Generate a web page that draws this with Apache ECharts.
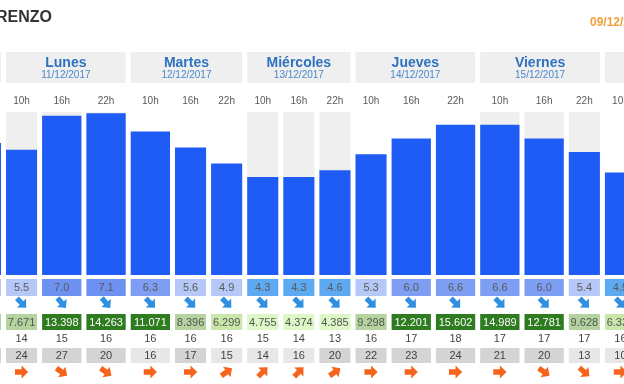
<!DOCTYPE html>
<html><head><meta charset="utf-8">
<script src="https://cdn.jsdelivr.net/npm/echarts@6/dist/echarts.min.js"></script>
<style>html,body{margin:0;padding:0;background:#fff}#c{width:624px;height:384px}</style>
</head><body><div id="c"></div>
<script>
// ---------- DATA ----------
const dayNames = ['Domingo', 'Lunes', 'Martes', 'Miércoles', 'Jueves', 'Viernes', 'Sábado'];
const dayDates = ['10/12/2017', '11/12/2017', '12/12/2017', '13/12/2017', '14/12/2017', '15/12/2017', '16/12/2017'];
const slotDay  = [0, 1, 1, 1, 2, 2, 2, 3, 3, 3, 4, 4, 4, 5, 5, 5, 6];
const slotHour = ['22h', '10h', '16h', '22h', '10h', '16h', '22h', '10h', '16h', '22h', '10h', '16h', '22h', '10h', '16h', '22h', '10h'];
const waveHeight = [5.8, 5.5, 7.0, 7.1, 6.3, 5.6, 4.9, 4.3, 4.3, 4.6, 5.3, 6.0, 6.6, 6.6, 6.0, 5.4, 4.5];
const waveDir    = [135, 135, 140, 140, 135, 135, 135, 135, 135, 135, 135, 135, 135, 135, 135, 135, 135];
const energy     = [7100, 7671, 13398, 14263, 11071, 8396, 6299, 4755, 4374, 4385, 9298, 12201, 15602, 14989, 12781, 9628, 6335];
const period     = [14, 14, 15, 16, 16, 16, 16, 15, 14, 13, 16, 17, 18, 17, 17, 17, 16];
const windSpeed  = [18, 24, 27, 20, 16, 17, 15, 14, 16, 20, 22, 23, 24, 21, 20, 13, 10];
const windDir    = [90, 90, 125, 125, 90, 90, 55, 45, 45, 55, 90, 90, 90, 90, 125, 130, 90];
const placeTitle = 'RENZO';
const issueDate  = '09/12/2017';

// ---------- LAYOUT ----------
const FONT = '"Liberation Sans", Arial, sans-serif';
const NARROW = 36.1, WIDE = 44.3, GAP = 5;
const widths = energy.map(e => e >= 10000 ? WIDE : NARROW);
const starts = [];
widths.reduce((acc, w, i) => { starts[i] = acc; return acc + w; }, 0);
const X_MIN = starts[1] - 3.5, X_MAX = X_MIN + 624;
const Y_MAX = 7.16;
const ROW = { hour: 101, dayBox: [52, 83], dayName: 63, dayDate: 75,
  wave: [279, 296], waveArrow: 303, energy: [314, 330], period: 339, wind: [348, 363], windArrow: 372 };

function fmtEnergy(n) { return Math.floor(n / 1000) + '.' + String(n % 1000).padStart(3, '0'); }
function waveColor(v) { if (v < 4.8) return '#5eaaf2'; if (v < 5.95) return '#b6c8f7'; if (v < 6.9) return '#7d9ef2'; return '#6d91f0'; }
function energyColor(v) { if (v >= 10000) return '#2f7b20'; if (v >= 7000) return '#b4d39f'; if (v >= 5500) return '#c8e7a9'; return '#ddf7c6'; }
function windColor(v) { return v >= 17 ? '#d4d4d4' : '#e7e7e7'; }
function arrowPoints(cx, cy, bearing, s) {
  const base = [[-6, -2.4], [0, -2.4], [0, -5.8], [6, 0], [0, 5.8], [0, 2.4], [-6, 2.4]];
  const t = (bearing - 90) * Math.PI / 180, c = Math.cos(t), sn = Math.sin(t);
  return base.map(([x, y]) => [cx + s * (x * c - y * sn), cy + s * (x * sn + y * c)]);
}

const cols = widths.map((w, i) => [starts[i] + GAP / 2, starts[i] + w - GAP / 2, i]);

// day spans (extend to 3 slots for partial days)
const hourIdx = { '10h': 0, '16h': 1, '22h': 2 };
const daySpans = dayNames.map((n, d) => {
  const idx = slotDay.map((sd, i) => sd === d ? i : -1).filter(i => i >= 0);
  const f = idx[0], l = idx[idx.length - 1];
  const s = starts[f] - hourIdx[slotHour[f]] * NARROW + GAP / 2;
  const e = starts[l] + widths[l] + (2 - hourIdx[slotHour[l]]) * NARROW - GAP / 2;
  return [s, e, d];
});

function cellRow(rowKey, values, colorFn, textFn, textColorFn) {
  return {
    type: 'custom', clip: false, silent: true, data: cols,
    renderItem: (p, api) => {
      const i = api.value(2);
      const x0 = api.coord([api.value(0), 0])[0], x1 = api.coord([api.value(1), 0])[0];
      const [y0, y1] = ROW[rowKey];
      return { type: 'group', children: [
        { type: 'rect', shape: { x: x0, y: y0, width: x1 - x0, height: y1 - y0 }, style: { fill: colorFn(values[i]) } },
        { type: 'text', style: { text: textFn(values[i]), x: (x0 + x1) / 2, y: (y0 + y1) / 2 + 0.5, align: 'center', verticalAlign: 'middle',
          font: '11px ' + FONT, fill: textColorFn(values[i]) } }
      ] };
    }
  };
}
function textRow(rowKey, textFn, font, color) {
  return {
    type: 'custom', clip: false, silent: true, data: cols,
    renderItem: (p, api) => {
      const i = api.value(2);
      const x0 = api.coord([api.value(0), 0])[0], x1 = api.coord([api.value(1), 0])[0];
      return { type: 'text', style: { text: textFn(i), x: (x0 + x1) / 2, y: ROW[rowKey], align: 'center', verticalAlign: 'middle', font: font, fill: color } };
    }
  };
}
function arrowRow(rowKey, dirs, color) {
  return {
    type: 'custom', clip: false, silent: true, data: cols,
    renderItem: (p, api) => {
      const i = api.value(2);
      const x0 = api.coord([api.value(0), 0])[0], x1 = api.coord([api.value(1), 0])[0];
      return { type: 'polygon', shape: { points: arrowPoints((x0 + x1) / 2, ROW[rowKey], dirs[i], 1.1) }, style: { fill: color } };
    }
  };
}

const chart = echarts.init(document.getElementById('c'), null, { renderer: 'canvas' });
chart.setOption({
  animation: false,
  backgroundColor: '#ffffff',
  grid: { left: 0, right: 0, top: 112, bottom: 109 },
  xAxis: { type: 'value', min: X_MIN, max: X_MAX, show: false },
  yAxis: { type: 'value', min: 0, max: Y_MAX, show: false },
  graphic: [
    { type: 'text', x: -4, y: 18, style: { text: placeTitle, font: 'bold 16px ' + FONT, fill: '#333333', verticalAlign: 'middle' } },
    { type: 'text', x: 590, y: 23, style: { text: issueDate, font: 'bold 12px ' + FONT, fill: '#f0a03c', verticalAlign: 'middle' } }
  ],
  series: [
    { type: 'custom', silent: true, data: cols,
      renderItem: (p, api) => {
        const i = api.value(2);
        if (slotDay[i] % 2 === 0) return null;
        const a = api.coord([api.value(0), Y_MAX]), b = api.coord([api.value(1), 0]);
        return { type: 'rect', shape: { x: a[0], y: a[1], width: b[0] - a[0], height: b[1] - a[1] }, style: { fill: '#efefef' } };
      } },
    { type: 'custom', silent: true, data: cols,
      renderItem: (p, api) => {
        const i = api.value(2);
        const a = api.coord([api.value(0), waveHeight[i]]), b = api.coord([api.value(1), 0]);
        return { type: 'rect', shape: { x: a[0], y: a[1], width: b[0] - a[0], height: b[1] - a[1] }, style: { fill: '#1f5bf5' } };
      } },
    { type: 'custom', clip: false, silent: true, data: daySpans,
      renderItem: (p, api) => {
        const d = api.value(2);
        const x0 = api.coord([api.value(0), 0])[0], x1 = api.coord([api.value(1), 0])[0];
        const [y0, y1] = ROW.dayBox;
        return { type: 'group', children: [
          { type: 'rect', shape: { x: x0, y: y0, width: x1 - x0, height: y1 - y0 }, style: { fill: '#efefef' } },
          { type: 'text', style: { text: dayNames[d], x: (x0 + x1) / 2, y: ROW.dayName, align: 'center', verticalAlign: 'middle', font: 'bold 14px ' + FONT, fill: '#2d72bf' } },
          { type: 'text', style: { text: dayDates[d], x: (x0 + x1) / 2, y: ROW.dayDate, align: 'center', verticalAlign: 'middle', font: '10px ' + FONT, fill: '#4a88c9' } }
        ] };
      } },
    textRow('hour', i => slotHour[i], '10px ' + FONT, '#5a5a5a'),
    cellRow('wave', waveHeight, waveColor, v => v.toFixed(1), () => '#5a5a5a'),
    arrowRow('waveArrow', waveDir, '#2f8fe0'),
    cellRow('energy', energy, energyColor, fmtEnergy, v => v >= 10000 ? '#ffffff' : '#555555'),
    textRow('period', i => String(period[i]), '11px ' + FONT, '#444444'),
    cellRow('wind', windSpeed, windColor, v => String(v), () => '#444444'),
    arrowRow('windArrow', windDir, '#f5631c')
  ]
});
</script></body></html>
